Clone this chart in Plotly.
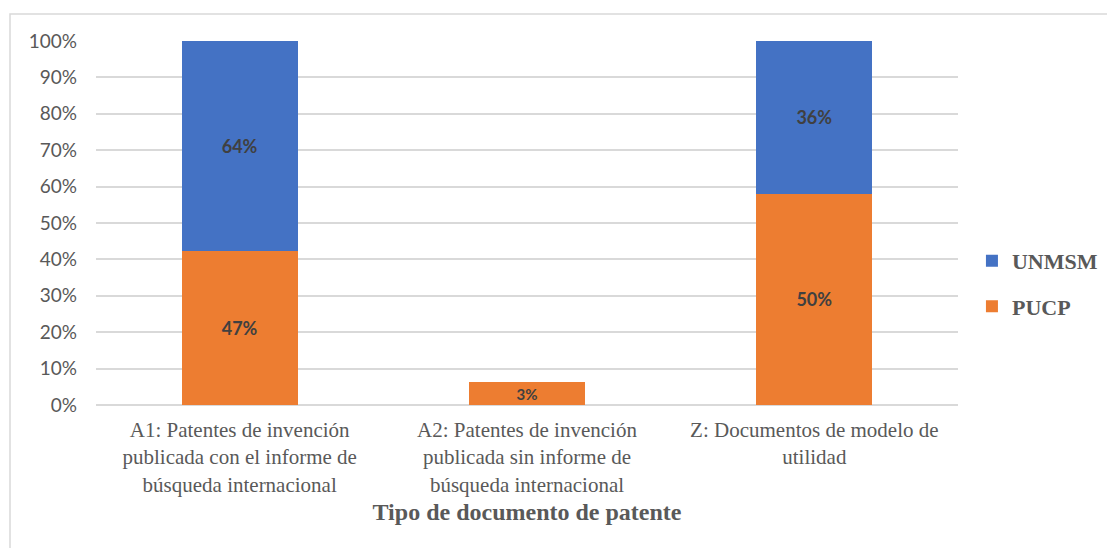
import plotly.graph_objects as go

categories = [
    "A1: Patentes de invención<br>publicada con el informe de<br>búsqueda internacional",
    "A2: Patentes de invención<br>publicada sin informe de<br>búsqueda internacional",
    "Z: Documentos de modelo de<br>utilidad",
]
# stacked share (bar heights)
pucp_share = [0.423, 0.062, 0.581]
unmsm_share = [0.577, 0.0, 0.419]
# data labels printed on the bars
pucp_labels = ["47%", "3%", "50%"]
unmsm_labels = ["64%", "", "36%"]

ORANGE = "#ED7D31"
BLUE = "#4472C4"
GREY_TXT = "#595959"
LABEL_TXT = "#404040"
SERIF = "Liberation Serif, Times New Roman, Times, serif"

fig = go.Figure()
fig.add_trace(go.Bar(
    name="PUCP", x=categories, y=pucp_share, marker_color=ORANGE,
    marker_line_width=0, legendgroup="p", legendrank=2,
    text=pucp_labels, textposition="inside", insidetextanchor="middle",
    textangle=0, constraintext="none",
    textfont=dict(family="Lato", size=[18, 15, 18], color=LABEL_TXT, weight="bold"),
    hoverinfo="skip",
))
fig.add_trace(go.Bar(
    name="UNMSM", x=categories, y=unmsm_share, marker_color=BLUE,
    marker_line_width=0, legendgroup="u", legendrank=1,
    text=unmsm_labels, textposition="inside", insidetextanchor="middle",
    textangle=0, constraintext="none",
    textfont=dict(family="Lato", size=18, color=LABEL_TXT, weight="bold"),
    hoverinfo="skip",
))

fig.update_layout(
    width=1107, height=548,
    margin=dict(l=96, r=149, t=41, b=143, autoexpand=False),
    barmode="stack", bargap=0.596,
    plot_bgcolor="white", paper_bgcolor="white",
    showlegend=True,
    legend=dict(
        xref="container", yref="container", x=0.878, y=0.482,
        xanchor="left", yanchor="middle",
        traceorder="grouped", tracegroupgap=14,
        font=dict(family=SERIF, size=22, color=GREY_TXT, weight="bold"),
        bgcolor="rgba(0,0,0,0)",
    ),
    xaxis=dict(
        showgrid=False, showline=False, ticks="", zeroline=False,
        tickfont=dict(family=SERIF, size=21, color=GREY_TXT, weight="normal"),
        ticklabelstandoff=10,
        title=dict(text="Tipo de documento de patente", standoff=7,
                   font=dict(family=SERIF, size=24, color=GREY_TXT, weight="bold")),
        automargin=False,
    ),
    yaxis=dict(
        range=[0, 1], dtick=0.1, tickformat=".0%",
        showgrid=True, gridcolor="#D9D9D9", gridwidth=1.5,
        zeroline=True, zerolinecolor="#D9D9D9", zerolinewidth=1.5,
        showline=False, ticks="",
        tickfont=dict(family="Lato", size=19, color=GREY_TXT),
        ticklabelstandoff=18, automargin=False,
    ),
    shapes=[dict(
        type="rect", xref="paper", yref="paper",
        x0=-86 / 862, x1=1.25, y0=-0.5, y1=1 + 27 / 364,
        line=dict(color="#D9D9D9", width=1.5), fillcolor="rgba(0,0,0,0)", layer="below",
    )],
)

fig.write_html("out.html")
